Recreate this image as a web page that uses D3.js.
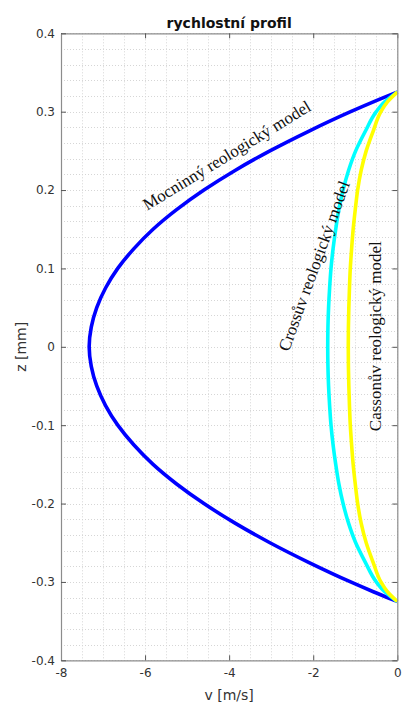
<!DOCTYPE html>
<html>
<head>
<meta charset="utf-8">
<script src="https://cdn.jsdelivr.net/npm/d3@7"></script>
<style>
  html, body { margin: 0; padding: 0; background: #fff; }
  svg { display: block; }
</style>
</head>
<body>
<svg id="chart" width="406" height="711"></svg>
<script>
// ---- data ----
const zValues = [-0.325, -0.3125, -0.3, -0.275, -0.25, -0.225, -0.2, -0.175, -0.15, -0.125, -0.1, -0.075, -0.05, -0.025,
                 0, 0.025, 0.05, 0.075, 0.1, 0.125, 0.15, 0.175, 0.2, 0.225, 0.25, 0.275, 0.3, 0.3125, 0.325];
const powerLawV = [0, -0.57, -1.11, -2.11, -3.03, -3.86, -4.60, -5.25, -5.81, -6.27, -6.65, -6.94, -7.15, -7.28,
                   -7.33, -7.28, -7.15, -6.94, -6.65, -6.27, -5.81, -5.25, -4.60, -3.86, -3.03, -2.11, -1.11, -0.57, 0];
const crossV = [0, -0.30, -0.50, -0.76, -0.99, -1.16, -1.29, -1.39, -1.465, -1.528, -1.577, -1.610, -1.635, -1.650,
                -1.655, -1.650, -1.635, -1.610, -1.577, -1.528, -1.465, -1.39, -1.29, -1.16, -0.99, -0.76, -0.50, -0.30, 0];
const cassonV = [0, -0.235, -0.39, -0.575, -0.74, -0.86, -0.943, -1.0, -1.05, -1.087, -1.118, -1.138, -1.153, -1.163,
                 -1.166, -1.163, -1.153, -1.138, -1.118, -1.087, -1.05, -1.0, -0.943, -0.86, -0.74, -0.575, -0.39, -0.235, 0];
const seriesNames = ["Mocninný reologický model", "Crossův reologický model", "Cassonův reologický model"];
const seriesColors = ["#0000ff", "#00ffff", "#ffff00"];
const xTicks = [-8, -6, -4, -2, 0];
const yTicks = [-0.4, -0.3, -0.2, -0.1, 0, 0.1, 0.2, 0.3, 0.4];
const titleText = "rychlostní profil";
const xLabel = "v [m/s]";
const yLabel = "z [mm]";

// ---- layout ----
const svg = d3.select("#chart");
const L = 61, R = 397.3, T = 33.3, B = 660.3;
const x = d3.scaleLinear().domain([-8, 0]).range([L, R]);
const y = d3.scaleLinear().domain([-0.4, 0.4]).range([B, T]);
const sans = "DejaVu Sans, Verdana, sans-serif";
const serif = "Liberation Serif, Times New Roman, serif";

svg.append("rect").attr("width", 406).attr("height", 711).attr("fill", "#fff");

// grid
const grid = svg.append("g");
const xMinor = d3.range(-8, 0.001, 0.5);
const yMinor = d3.range(-0.4, 0.4001, 0.02);
grid.selectAll(".gx").data(xMinor).join("line")
  .attr("x1", d => Math.round(x(d)) + 0.5).attr("x2", d => Math.round(x(d)) + 0.5)
  .attr("y1", T).attr("y2", B)
  .attr("stroke", "#d6d6d6").attr("stroke-width", 1).attr("stroke-dasharray", "1,2");
grid.selectAll(".gy").data(yMinor).join("line")
  .attr("y1", d => Math.round(y(d)) + 0.5).attr("y2", d => Math.round(y(d)) + 0.5)
  .attr("x1", L).attr("x2", R)
  .attr("stroke", "#d6d6d6").attr("stroke-width", 1).attr("stroke-dasharray", "1,2");

// curves (drawn in series order: blue, cyan, yellow on top)
const seriesValues = [powerLawV, crossV, cassonV];
const line = d3.line().curve(d3.curveMonotoneY)
  .x(d => x(d[0])).y(d => y(d[1]));
seriesValues.forEach((vals, i) => {
  const pts = zValues.map((z, k) => [vals[k], z]).reverse();
  svg.append("path").datum(pts)
    .attr("d", line)
    .attr("fill", "none")
    .attr("stroke", seriesColors[i])
    .attr("stroke-width", 3.6)
    .attr("stroke-linejoin", "round");
});

// axes
const axisColor = "#8c8c8c";
const textColor = "#333";
const xAxisB = svg.append("g").attr("transform", `translate(0,${B})`)
  .call(d3.axisBottom(x).tickValues(xTicks).tickSizeInner(-5).tickSizeOuter(0).tickPadding(8).tickFormat(d => String(d)));
const xAxisT = svg.append("g").attr("transform", `translate(0,${T})`)
  .call(d3.axisTop(x).tickValues(xTicks).tickSizeInner(-5).tickSizeOuter(0).tickFormat(""));
const yAxisL = svg.append("g").attr("transform", `translate(${L},0)`)
  .call(d3.axisLeft(y).tickValues(yTicks).tickSizeInner(-5).tickSizeOuter(0).tickPadding(6).tickFormat(d => Math.abs(d) < 1e-9 ? "0" : d.toFixed(1)));
const yAxisR = svg.append("g").attr("transform", `translate(${R},0)`)
  .call(d3.axisRight(y).tickValues(yTicks).tickSizeInner(-5).tickSizeOuter(0).tickFormat(""));
[xAxisB, xAxisT, yAxisL, yAxisR].forEach(g => {
  g.selectAll("path").attr("stroke", axisColor).attr("stroke-width", 1.2);
  g.selectAll("line").attr("stroke", "#555").attr("stroke-width", 1);
  g.selectAll("text").attr("fill", textColor).attr("font-family", sans).attr("font-size", 12);
});

// title + axis labels
svg.append("text").attr("x", (L + R) / 2).attr("y", 27.5).attr("text-anchor", "middle")
  .attr("font-family", sans).attr("font-weight", "bold").attr("font-size", 14)
  .attr("fill", "#111").text(titleText);
svg.append("text").attr("x", (L + R) / 2).attr("y", 700).attr("text-anchor", "middle")
  .attr("font-family", sans).attr("font-size", 14)
  .attr("fill", textColor).text(xLabel);
svg.append("text").attr("transform", `translate(25.5,${y(0)}) rotate(-90)`).attr("text-anchor", "middle")
  .attr("font-family", sans).attr("font-size", 14)
  .attr("fill", textColor).text(yLabel);

// curve annotations
const annots = [
  { name: seriesNames[0], v: -5.95, z: 0.1735, angle: -31.5 },
  { name: seriesNames[1], v: -2.58, z: -0.0068, angle: -70 },
  { name: seriesNames[2], v: -0.388, z: -0.1076, angle: -90 }
];
annots.forEach(a => {
  svg.append("text")
    .attr("transform", `translate(${x(a.v)},${y(a.z)}) rotate(${a.angle})`)
    .attr("font-family", serif).attr("font-size", 17).attr("fill", "#111")
    .text(a.name);
});
</script>
</body>
</html>
